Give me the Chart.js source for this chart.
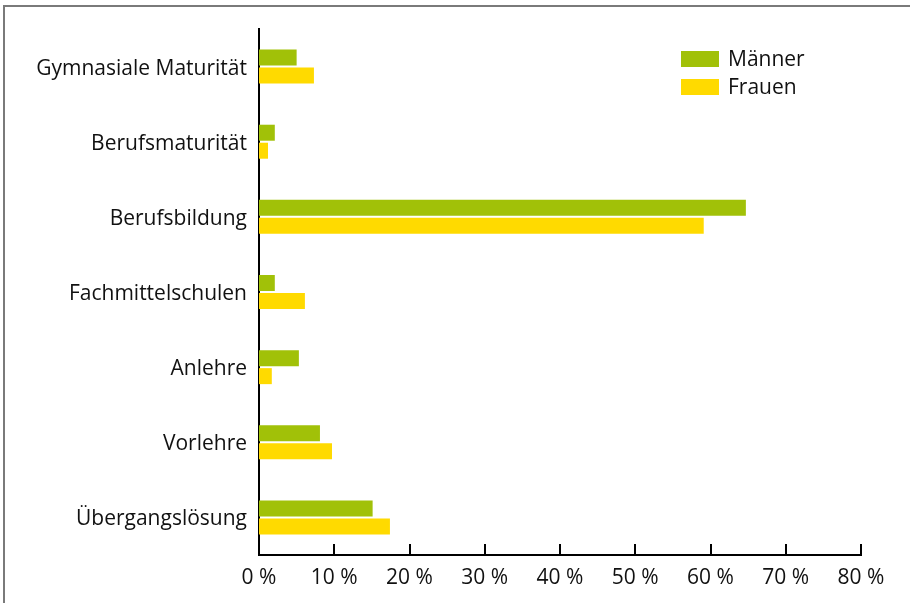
<!DOCTYPE html>
<html>
<head>
<meta charset="utf-8">
<script src="https://cdn.jsdelivr.net/npm/chart.js@4"></script>
<style>
  html, body { margin: 0; padding: 0; background: #fff; }
  canvas { display: block; }
</style>
</head>
<body>
<canvas id="bar-chart" width="910" height="603"></canvas>
<script>
const categories = [
  "Gymnasiale Maturität",
  "Berufsmaturität",
  "Berufsbildung",
  "Fachmittelschulen",
  "Anlehre",
  "Vorlehre",
  "Übergangslösung",
];
const maenner = [5.0, 2.1, 64.7, 2.1, 5.3, 8.1, 15.1];
const frauen = [7.3, 1.2, 59.1, 6.1, 1.7, 9.7, 17.4];
const xTicks = [0, 10, 20, 30, 40, 50, 60, 70, 80];

const FONT = "'Open Sans', sans-serif";

// frame, inward tick marks and the legend box
const extras = {
  id: "extras",
  beforeDraw(chart) {
    const ctx = chart.ctx;
    ctx.save();
    ctx.strokeStyle = "#7a7a7a";
    ctx.lineWidth = 2;
    ctx.beginPath();
    ctx.moveTo(4, 603);
    ctx.lineTo(4, 6);
    ctx.lineTo(910, 6);
    ctx.stroke();
    ctx.restore();
  },
  afterDraw(chart) {
    const ctx = chart.ctx;
    const x = chart.scales.x;
    const area = chart.chartArea;
    ctx.save();
    ctx.strokeStyle = "#000";
    ctx.lineWidth = 2;
    xTicks.slice(1).forEach((v) => {
      const px = Math.round(x.getPixelForValue(v));
      ctx.beginPath();
      ctx.moveTo(px, area.bottom);
      ctx.lineTo(px, area.bottom - 11);
      ctx.stroke();
    });
    // legend
    ctx.font = "21px " + FONT;
    ctx.textBaseline = "middle";
    chart.data.datasets.forEach((ds, i) => {
      const top = 51 + i * 28;
      ctx.fillStyle = ds.backgroundColor;
      ctx.fillRect(681, top, 38, 16);
      ctx.fillStyle = "#111";
      ctx.fillText(ds.label, 728, top + 9);
    });
    ctx.restore();
  },
};

new Chart(document.getElementById("bar-chart"), {
  type: "bar",
  data: {
    labels: categories,
    datasets: [
      { label: "Männer", backgroundColor: "#a1c108", data: maenner },
      { label: "Frauen", backgroundColor: "#ffda00", data: frauen },
    ],
  },
  plugins: [extras],
  options: {
    indexAxis: "y",
    responsive: false,
    animation: false,
    devicePixelRatio: 1,
    layout: { padding: { left: 0, right: 49, top: 29, bottom: 0 } },
    datasets: { bar: { categoryPercentage: 0.479, barPercentage: 0.889 } },
    plugins: {
      legend: { display: false },
      title: { display: false },
      tooltip: { enabled: false },
    },
    scales: {
      x: {
        min: 0,
        max: 80,
        afterFit: (s) => { s.height = 48; },
        afterBuildTicks: (s) => { s.ticks = xTicks.map((v) => ({ value: v })); },
        grid: { display: false, drawTicks: false },
        border: { display: true, color: "#000", width: 2 },
        ticks: {
          padding: 10,
          color: "#111",
          font: { family: FONT, size: 21 },
          callback: (v) => v + " %",
          maxRotation: 0,
        },
      },
      y: {
        afterFit: (s) => { s.width = 259; },
        grid: { display: false, drawTicks: false },
        border: { display: true, color: "#000", width: 2 },
        ticks: {
          padding: 12,
          labelOffset: 2,
          color: "#111",
          font: { family: FONT, size: 21 },
        },
      },
    },
  },
});
</script>
</body>
</html>
